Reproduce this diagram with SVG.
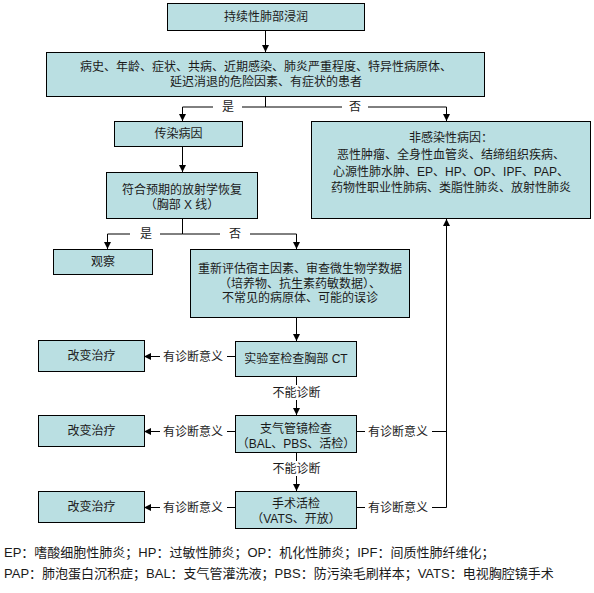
<svg xmlns="http://www.w3.org/2000/svg" width="594" height="593" viewBox="0 0 594 593">
<style>
.box{fill:#BADFE2;stroke:#000;stroke-width:1}
.t{font-family:"Liberation Sans","Noto Sans CJK SC",sans-serif;font-size:12px;fill:#1a1a1a;text-anchor:middle}
.lg{font-family:"Liberation Sans","Noto Sans CJK SC",sans-serif;font-size:13px;fill:#1a1a1a}
.c{fill:none;stroke:#000;stroke-width:1}
</style>
<defs>
<marker id="ah" viewBox="0 0 10 10" refX="10" refY="5" markerWidth="9" markerHeight="7" orient="auto" markerUnits="userSpaceOnUse"><path d="M0,0 L10,5 L0,10 z" fill="#000"/></marker>
</defs>
<rect width="594" height="593" fill="#fff"/>
<g id="connectors">
<path class="c" d="M265.5,31 V52" marker-end="url(#ah)"/>
<path class="c" d="M265.5,97 V107 H242"/>
<path class="c" d="M213,107 H182.5 V121" marker-end="url(#ah)"/>
<path class="c" d="M265.5,107 H342"/>
<path class="c" d="M368,107 H446.5 V121" marker-end="url(#ah)"/>
<text class="t" x="228" y="111">是</text>
<text class="t" x="355" y="111">否</text>
<path class="c" d="M182.5,147 V172" marker-end="url(#ah)"/>
<path class="c" d="M182.5,219 V234 H160"/>
<path class="c" d="M130,234 H107.5 V249" marker-end="url(#ah)"/>
<path class="c" d="M182.5,234 H220"/>
<path class="c" d="M250,234 H296.5 V249" marker-end="url(#ah)"/>
<text class="t" x="146" y="238">是</text>
<text class="t" x="235" y="238">否</text>
<path class="c" d="M296.5,318 V341" marker-end="url(#ah)"/>
<path class="c" d="M296.5,377 V385"/>
<path class="c" d="M296.5,400 V415" marker-end="url(#ah)"/>
<text class="t" x="296.5" y="397">不能诊断</text>
<path class="c" d="M296.5,453 V461"/>
<path class="c" d="M296.5,476 V491" marker-end="url(#ah)"/>
<text class="t" x="296.5" y="473">不能诊断</text>
<path class="c" d="M235,356.5 H227"/>
<path class="c" d="M160,356.5 H144" marker-end="url(#ah)"/>
<text class="t" x="193" y="361">有诊断意义</text>
<path class="c" d="M235,431.5 H227"/>
<path class="c" d="M160,431.5 H144" marker-end="url(#ah)"/>
<text class="t" x="193" y="436">有诊断意义</text>
<path class="c" d="M235,507.5 H227"/>
<path class="c" d="M160,507.5 H144" marker-end="url(#ah)"/>
<text class="t" x="193" y="512">有诊断意义</text>
<path class="c" d="M356,431.5 H365"/>
<path class="c" d="M432,431.5 H446.5"/>
<text class="t" x="398" y="436">有诊断意义</text>
<path class="c" d="M356,507.5 H365"/>
<path class="c" d="M432,507.5 H446.5 V219" marker-end="url(#ah)"/>
<text class="t" x="398" y="512">有诊断意义</text>
</g>
<g id="n1"><rect class="box" x="167.5" y="3.5" width="197" height="27"/><text class="t" x="266" y="21">持续性肺部浸润</text></g>
<g id="n2"><rect class="box" x="46.5" y="52.5" width="438" height="44"/><text class="t" x="266" y="71">病史、年龄、症状、共病、近期感染、肺炎严重程度、特异性病原体、</text><text class="t" x="266" y="86">延迟消退的危险因素、有症状的患者</text></g>
<g id="n3"><rect class="box" x="114.5" y="121.5" width="128" height="25"/><text class="t" x="178.5" y="138">传染病因</text></g>
<g id="n4"><rect class="box" x="106.5" y="172.5" width="151" height="46"/><text class="t" x="182" y="194">符合预期的放射学恢复</text><text class="t" x="182" y="209">（胸部 X 线）</text></g>
<g id="n5"><rect class="box" x="311.5" y="121.5" width="279" height="97"/><text class="t" x="451" y="142">非感染性病因：</text><text class="t" x="451" y="159">恶性肿瘤、全身性血管炎、结缔组织疾病、</text><text class="t" x="451" y="176">心源性肺水肿、EP、HP、OP、IPF、PAP、</text><text class="t" x="451" y="192">药物性职业性肺病、类脂性肺炎、放射性肺炎</text></g>
<g id="n6"><rect class="box" x="53.5" y="249.5" width="99" height="25"/><text class="t" x="103" y="266">观察</text></g>
<g id="n7"><rect class="box" x="190.5" y="249.5" width="219" height="68"/><text class="t" x="300" y="273">重新评估宿主因素、审查微生物学数据</text><text class="t" x="300" y="288">（培养物、抗生素药敏数据）、</text><text class="t" x="300" y="302">不常见的病原体、可能的误诊</text></g>
<g id="n8"><rect class="box" x="235.5" y="341.5" width="121" height="35"/><text class="t" x="296" y="363">实验室检查胸部 CT</text></g>
<g id="n9"><rect class="box" x="235.5" y="415.5" width="121" height="37"/><text class="t" x="296" y="433">支气管镜检查</text><text class="t" x="296" y="448">（BAL、PBS、活检）</text></g>
<g id="n10"><rect class="box" x="235.5" y="491.5" width="121" height="37"/><text class="t" x="296" y="508">手术活检</text><text class="t" x="296" y="523">（VATS、开放）</text></g>
<g id="n11"><rect class="box" x="38.5" y="340.5" width="106" height="31"/><text class="t" x="91.5" y="360">改变治疗</text></g>
<g id="n12"><rect class="box" x="38.5" y="415.5" width="106" height="31"/><text class="t" x="91.5" y="435">改变治疗</text></g>
<g id="n13"><rect class="box" x="38.5" y="491.5" width="106" height="31"/><text class="t" x="91.5" y="511">改变治疗</text></g>
<g id="legend">
<text class="lg" x="4" y="557">EP：嗜酸细胞性肺炎；HP：过敏性肺炎；OP：机化性肺炎；IPF：间质性肺纤维化；</text>
<text class="lg" x="4" y="578">PAP：肺泡蛋白沉积症；BAL：支气管灌洗液；PBS：防污染毛刷样本；VATS：电视胸腔镜手术</text>
</g>
</svg>
